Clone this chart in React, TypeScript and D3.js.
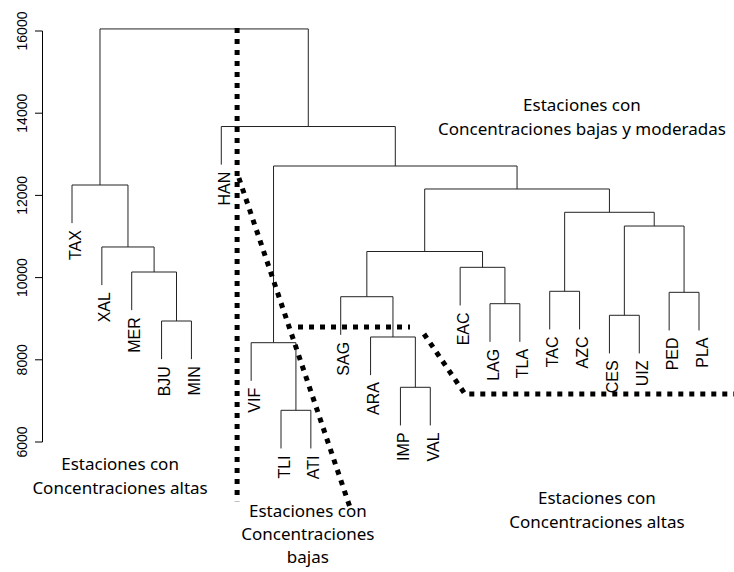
import React from "react";
import * as d3 from "d3";

// Leaves in dendrogram order
const leafLabels = [
  "TAX", "XAL", "MER", "BJU", "MIN", "HAN", "VIF", "TLI", "ATI", "SAG", "ARA",
  "IMP", "VAL", "EAC", "LAG", "TLA", "TAC", "AZC", "CES", "UIZ", "PED", "PLA",
];

// hclust-style merge table (negative = leaf index 1-based, positive = merge row 1-based)
const mergeLeft = [-8, -12, -7, -11, -4, -19, -15, -10, -21, -17, -3, -14, 8, -2, 6, 10, 13, -1, 3, -6, 18];
const mergeRight = [-9, -13, 1, 2, -5, -20, -16, 4, -22, -18, 5, 7, 12, 11, 9, 15, 16, 14, 17, 19, 20];
const mergeHeight = [
  6771, 7331, 8416, 8555, 8944, 9083, 9365, 9535, 9642, 9667, 10136,
  10250, 10635, 10745, 11255, 11589, 12156, 12253, 12715, 13676, 16050,
];

const yTicks = [6000, 8000, 10000, 12000, 14000, 16000];

// Dotted separating lines (x in leaf-index units, y in height units)
const guideA_x = [6.53, 6.53];
const guideA_y = [16073, 4560];
const guideB_x = [6.59, 10.34];
const guideB_y = [12423, 4345];
const guideC_x = [8.57, 12.32];
const guideC_y = [8798, 8798];
const guideD_x = [12.79, 14.16, 23.3];
const guideD_y = [8628, 7168, 7168];

// Annotations
const noteText = [
  ["Estaciones con", "Concentraciones altas"],
  ["Estaciones con", "Concentraciones altas"],
  ["Estaciones con", "Concentraciones bajas y moderadas"],
  ["Estaciones con", "Concentraciones", "bajas"],
];
const noteX = [2.61, 18.58, 18.08, 8.9];
const noteY = [5320, 4500, 14053, 4175];

const W = 734;
const H = 572;

export default function App() {
  const y = d3.scaleLinear().domain([6000, 16000]).range([442, 31]);
  const xIdx = d3.scaleLinear().domain([1, 22]).range([72, 699]);
  const xLeaf = d3.scalePoint<string>().domain(leafLabels).range([72, 699]);

  const hang = 0.1 * (d3.max(mergeHeight)! - d3.min(mergeHeight)!);

  const mergeX: number[] = [];
  const childX = (c: number) => (c < 0 ? xLeaf(leafLabels[-c - 1])! : mergeX[c - 1]);
  mergeHeight.forEach((_, i) => {
    mergeX[i] = (childX(mergeLeft[i]) + childX(mergeRight[i])) / 2;
  });

  const segs: string[] = [];
  const leafEnds: { label: string; x: number; y: number }[] = [];
  mergeHeight.forEach((h, i) => {
    const yh = y(h);
    const ends = [mergeLeft[i], mergeRight[i]].map((c) => {
      if (c < 0) {
        const lab = leafLabels[-c - 1];
        const ly = y(h - hang);
        leafEnds.push({ label: lab, x: xLeaf(lab)!, y: ly });
        return { x: xLeaf(lab)!, y: ly };
      }
      return { x: mergeX[c - 1], y: y(mergeHeight[c - 1]) };
    });
    segs.push(`M${ends[0].x},${ends[0].y}V${yh}H${ends[1].x}V${ends[1].y}`);
  });

  const line = d3
    .line<[number, number]>()
    .x((d) => xIdx(d[0]))
    .y((d) => y(d[1]));
  const guides = [
    [guideA_x, guideA_y],
    [guideB_x, guideB_y],
    [guideC_x, guideC_y],
    [guideD_x, guideD_y],
  ].map(([xs, ys]) => line(xs.map((v, k) => [v, ys[k]] as [number, number]))!);

  const axisFont = "'Liberation Sans', Arial, sans-serif";
  const noteFont = "'Noto Sans', 'DejaVu Sans', sans-serif";

  return (
    <svg
      width={W}
      height={H}
      style={{ position: "absolute", left: 0, top: 0, background: "#fff" }}
    >
      <rect width={W} height={H} fill="#fff" />
      {/* y axis */}
      <g stroke="#000" strokeWidth={1} fill="none">
        <path d={`M42.5,${y(6000)}V${y(16000)}`} />
        {yTicks.map((t) => (
          <path key={t} d={`M35,${y(t)}H42.5`} />
        ))}
      </g>
      {yTicks.map((t) => (
        <text
          key={"l" + t}
          transform={`translate(27,${y(t)}) rotate(-90)`}
          textAnchor="middle"
          fontFamily={axisFont}
          fontSize={14}
          fill="#000"
        >
          {t}
        </text>
      ))}
      {/* dendrogram */}
      <g stroke="#222" strokeWidth={1} fill="none">
        {segs.map((d, i) => (
          <path key={i} d={d} />
        ))}
      </g>
      {leafEnds.map((l) => (
        <text
          key={l.label}
          transform={`translate(${l.x + 8.5},${l.y + 7}) rotate(-90)`}
          textAnchor="end"
          fontFamily={axisFont}
          fontSize={16}
          fill="#000"
        >
          {l.label}
        </text>
      ))}
      {/* dotted guides */}
      <g stroke="#000" strokeWidth={5} fill="none" strokeDasharray="5 6">
        {guides.map((d, i) => (
          <path key={i} d={d} />
        ))}
      </g>
      {/* annotations */}
      {noteText.map((lines, i) => (
        <text
          key={"n" + i}
          x={xIdx(noteX[i])}
          y={y(noteY[i])}
          textAnchor="middle"
          fontFamily={noteFont}
          fontSize={17}
          fill="#000"
        >
          {lines.map((s, k) => (
            <tspan key={k} x={xIdx(noteX[i])} dy={k === 0 ? 0 : i === 3 ? 23 : 24}>
              {s}
            </tspan>
          ))}
        </text>
      ))}
    </svg>
  );
}
